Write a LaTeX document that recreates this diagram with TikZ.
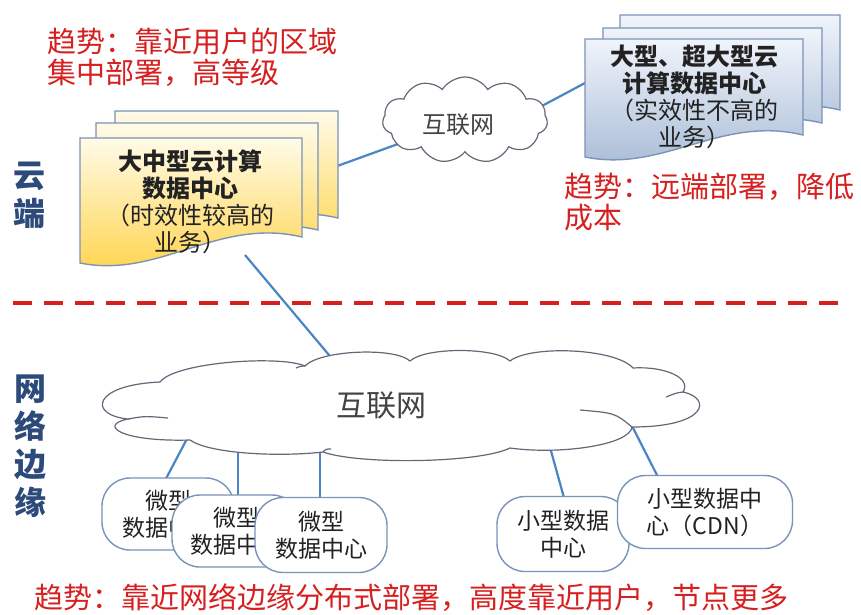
\documentclass[tikz,border=0pt]{standalone}
\usepackage{fontspec}
\setmainfont{Noto Sans CJK SC}
\usetikzlibrary{shapes.symbols}
\definecolor{trendred}{RGB}{214,32,32}
\definecolor{linkblue}{RGB}{74,134,196}
\definecolor{edgegray}{RGB}{122,147,184}
\definecolor{labelblue}{RGB}{44,74,122}
\definecolor{textdark}{RGB}{34,34,34}
\definecolor{cloudline}{RGB}{100,104,118}
\definecolor{yelTop}{RGB}{255,251,232}
\definecolor{yelBot}{RGB}{255,210,70}
\definecolor{bluTop}{RGB}{240,244,251}
\definecolor{bluBot}{RGB}{166,186,212}
\newcommand{\mydocshape}[6]{%
  \path[#6] (#1,#2) -- ({#1+#3},#2) -- ({#1+#3},{#2+#4-#5})
    .. controls ({#1+0.62*#3},{#2+#4-#5-20}) and ({#1+0.36*#3},{#2+#4+16}) .. (#1,{#2+#4}) -- cycle;}
\tikzset{
  trend/.style={text=trendred, font=\fontsize{29}{31}\selectfont, align=left, inner sep=0pt},
  sidelabel/.style={text=labelblue, font=\fontsize{32}{38}\selectfont\bfseries, align=center, inner sep=0pt},
  link/.style={draw=linkblue, line width=2.2pt},
  yeldoc/.style={draw=edgegray, line width=1.4pt, top color=yelTop, bottom color=yelBot},
  bludoc/.style={draw=edgegray, line width=1.4pt, top color=bluTop, bottom color=bluBot},
  doctext/.style={text=textdark, font=\fontsize{24}{27}\selectfont, align=center, inner sep=0pt},
  netcloud/.style={cloud, cloud ignores aspect, draw=cloudline, line width=1.2pt, fill=white},
  cloudpath/.style={draw=cloudline, line width=1.2pt, fill=white},
  cloudhook/.style={draw=cloudline, line width=1.2pt},
  nettext/.style={text=textdark!85, inner sep=0pt},
  dcbox/.style={draw=edgegray, line width=1.4pt, fill=white, rounded corners=28pt,
    align=center, text=textdark, font=\fontsize{23}{27}\selectfont, inner sep=0pt}
}
\begin{document}
\begin{tikzpicture}[x=1pt,y=-1pt]
\useasboundingbox (0,0) rectangle (861,614);
\fill[white] (0,0) rectangle (861,614);

% connector end points
\coordinate (ydocR) at (318,173);
\coordinate (ydocB) at (245,255);
\coordinate (bdocL) at (600,75);
\coordinate (cA) at (420,136);
\coordinate (cB) at (510,123);
\coordinate (cC) at (350,380);
\coordinate (n1) at (189,435);
\coordinate (n2) at (238,447);
\coordinate (n3) at (320,445);
\coordinate (n4) at (548,440);
\coordinate (n5) at (629,420);
\coordinate (m1) at (160,490);
\coordinate (m2) at (238,505);
\coordinate (m3) at (320,510);
\coordinate (m4) at (566,505);
\coordinate (m5) at (662,485);

% connectors (drawn first, shapes cover their ends)
\draw[link] (ydocR) -- (cA);
\draw[link] (cB) -- (bdocL);
\draw[link] (ydocB) -- (cC);
\draw[link] (n1) -- (m1);
\draw[link] (n2) -- (m2);
\draw[link] (n3) -- (m3);
\draw[link] (n4) -- (m4);
\draw[link] (n5) -- (m5);

% trend texts
\node[trend, anchor=west] (t1) at (47,57) {趋势：靠近用户的区域\\集中部署，高等级};
\node[trend, anchor=west] (t2) at (564,202) {趋势：远端部署，降低\\成本};
\node[trend, anchor=west] (t3) at (34,598) {趋势：靠近网络边缘分布式部署，高度靠近用户，节点更多};

% side labels
\node[sidelabel] (lcloud) at (29,195) {云\\端};
\node[sidelabel] (ledge) at (30,446) {网\\络\\边\\缘};

% dashed separator
\draw[draw=trendred, line width=3.6pt, dash pattern=on 19pt off 12pt] (13,303) -- (848,303);

% yellow document stack
\mydocshape{115}{111}{223}{132}{25}{yeldoc}
\mydocshape{96}{123}{222}{132}{25}{yeldoc}
\mydocshape{80}{138}{222}{125}{26}{yeldoc}
\node[doctext] (ydoc) at (190,202) {\textbf{大中型云计算}\\\textbf{数据中心}\\（时效性较高的\\业务）};

% blue document stack
\mydocshape{620}{15}{220}{118}{23}{bludoc}
\mydocshape{603}{28}{219}{118}{23}{bludoc}
\mydocshape{585}{39}{218}{118}{22}{bludoc}
\node[doctext] (bdoc) at (694,97) {\textbf{大型、超大型云}\\\textbf{计算数据中心}\\（实效性不高的\\业务）};

% small cloud
\node[netcloud, cloud puffs=11, cloud puff arc=115, minimum width=165pt, minimum height=86pt] (cloudS) at (465,120) {};
\node[nettext, font=\fontsize{24}{24}\selectfont] (cloudSt) at (458,125) {互联网};

% big cloud
\path[cloudpath] (160,382)
  .. controls (175,362) and (280,355) .. (305,366)
  .. controls (320,350) and (395,347) .. (410,361)
  .. controls (425,347) and (495,347) .. (510,361)
  .. controls (530,345) and (615,348) .. (633,368)
  .. controls (665,366) and (692,378) .. (683,392)
  .. controls (712,398) and (708,427) .. (632,427)
  .. controls (630,445) and (560,455) .. (510,448)
  .. controls (480,463) and (360,465) .. (323,452)
  .. controls (280,457) and (210,454) .. (190,440)
  .. controls (120,442) and (98,425) .. (128,419)
  .. controls (88,415) and (92,385) .. (160,382) -- cycle;
\draw[cloudhook] (128,419) .. controls (145,416) .. (168,418);
\draw[cloudhook] (632,427) .. controls (615,413) .. (580,410);
\draw[cloudhook] (683,392) .. controls (676,393) .. (666,397);
\draw[cloudhook] (305,366) .. controls (301,366) .. (296,368);
\draw[cloudhook] (323,452) .. controls (326,449) .. (331,449);
\node[nettext, font=\fontsize{30}{30}\selectfont] (cloudBt) at (381,405) {互联网};

% micro data centres
\node[dcbox, minimum width=132pt, minimum height=72pt] (mdc1) at (168,514) {微型\\数据中心};
\node[dcbox, minimum width=128pt, minimum height=72pt] (mdc2) at (236,531) {微型\\数据中心};
\node[dcbox, minimum width=132pt, minimum height=75pt] (mdc3) at (321,535) {微型\\数据中心};
\node[dcbox, minimum width=132pt, minimum height=75pt] (sdc) at (563,534) {小型数据\\中心};
\node[dcbox, minimum width=175pt, minimum height=73pt] (cdn) at (705,512) {小型数据中\\心（CDN）};
\end{tikzpicture}
\end{document}
